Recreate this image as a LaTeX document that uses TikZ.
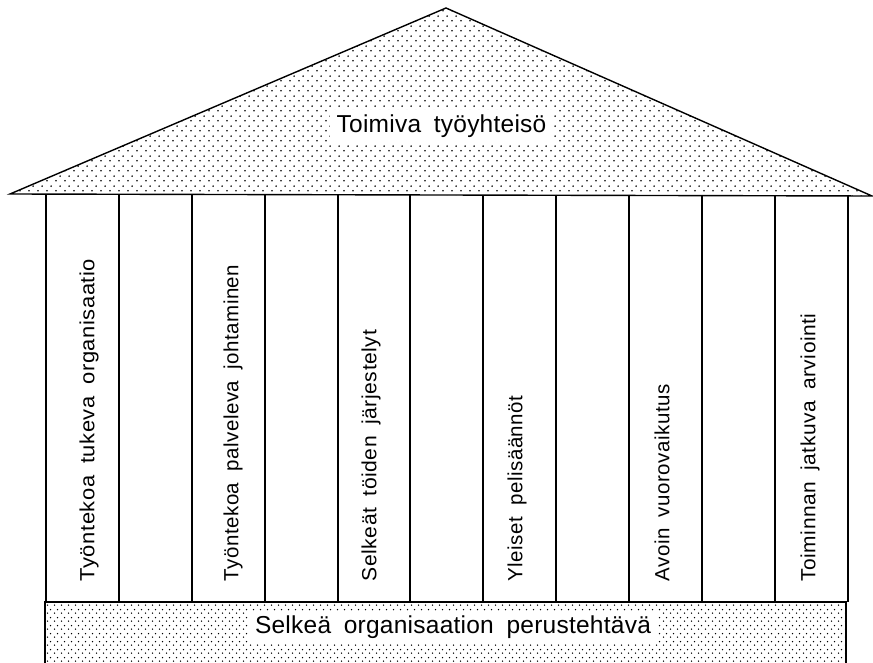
\documentclass[tikz,border=0pt]{standalone}
\usepackage{fontspec}
\setmainfont{Liberation Sans}
\newfontfamily\cadfont[LetterSpace=2.5,WordSpace=1.8]{Liberation Sans}
\newfontfamily\cadbigfont[LetterSpace=1,WordSpace=1.8]{Liberation Sans}
\usetikzlibrary{patterns.meta}
\tikzdeclarepattern{name=roofdots, type=uncolored,
  bounding box={(0pt,0pt) and (9pt,10pt)}, tile size={(9pt,10pt)},
  code={\fill (2.25pt,2.5pt) circle (1.0pt); \fill (6.75pt,7.5pt) circle (1.0pt);}}
\tikzdeclarepattern{name=basedots, type=uncolored,
  bounding box={(0pt,0pt) and (6.5pt,8pt)}, tile size={(6.5pt,8pt)},
  code={\fill (1.625pt,2pt) circle (0.8pt); \fill (4.875pt,6pt) circle (0.8pt);}}
\begin{document}
\begin{tikzpicture}[x=1pt,y=-1pt,line width=1.4pt,
  bigtext/.style={font=\cadbigfont\fontsize{24.5}{28}\selectfont, fill=white, inner xsep=7pt, inner ysep=5pt},
  pillartext/.style={font=\cadfont\fontsize{20.5}{22}\selectfont, inner sep=0pt, rotate=90, anchor=west},
  pillarline/.style={draw=black},
  dotted area/.style={pattern=#1, pattern color=black}]
\useasboundingbox (0,0) rectangle (873,663);
\clip (0,0) rectangle (873,663);
\fill[white] (0,0) rectangle (873,663);
% roof
\coordinate (apex) at (446,8);
\coordinate (eaveL) at (10,194);
\coordinate (eaveR) at (872,196);
\draw[dotted area=roofdots] (eaveL) -- (apex) -- (eaveR) -- cycle;
\node[bigtext] (roof) at (441.5,126) {Toimiva työyhteisö};
% pillars
\foreach \x in {46,119,192,265,338,410,483,556,629,702,775,848}
  \draw[pillarline] (\x,195) -- (\x,602);
% base
\draw[dotted area=basedots] (45,602) rectangle (846,690);
\node[bigtext] (base) at (453,627) {Selkeä organisaation perustehtävä};
% pillar labels
\node[pillartext] (p1) at (89,582) {\scalebox{1.07}[1]{Työntekoa tukeva organisaatio}};
\node[pillartext] (p3) at (233,582) {Työntekoa palveleva johtaminen};
\node[pillartext] (p5) at (371,582) {\scalebox{1.03}[1]{Selkeät töiden järjestelyt}};
\node[pillartext] (p7) at (517,582) {Yleiset pelisäännöt};
\node[pillartext] (p9) at (662,582) {Avoin vuorovaikutus};
\node[pillartext] (p11) at (810,582) {\scalebox{1.02}[1]{Toiminnan jatkuva arviointi}};
\end{tikzpicture}
\end{document}
